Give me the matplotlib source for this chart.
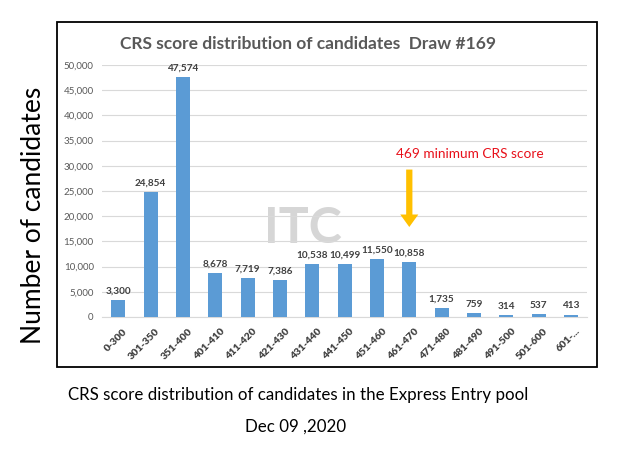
import matplotlib.pyplot as plt
from matplotlib.patches import Rectangle
from matplotlib.ticker import FuncFormatter

ranges = ["0-300", "301-350", "351-400", "401-410", "411-420", "421-430",
          "431-440", "441-450", "451-460", "461-470", "471-480", "481-490",
          "491-500", "501-600", "601-..."]
counts = [3300, 24854, 47574, 8678, 7719, 7386, 10538, 10499, 11550,
          10858, 1735, 759, 314, 537, 413]

cutoff_label = "469 minimum CRS score"
cutoff_idx = 9

plt.rcParams['font.family'] = ['Lato', 'DejaVu Sans']

fig = plt.figure(figsize=(6.3, 4.5), dpi=100)
ax = fig.add_axes([0.162, 0.2956, 0.77, 0.56])

x = list(range(len(ranges)))
ax.bar(x, counts, width=0.43, color="#5b9bd5", zorder=3)

for i, v in enumerate(counts):
    ax.text(i, v + 900, f"{v:,}", ha="center", va="bottom", fontsize=7.2,
            fontweight="bold", color="#404040", zorder=4)

ax.set_xlim(-0.5, len(ranges) - 0.5)
ax.set_ylim(0, 50000)
ax.set_yticks(range(0, 50001, 5000))
ax.yaxis.set_major_formatter(FuncFormatter(lambda v, p: f"{int(v):,}"))
ax.set_xticks([i + 0.15 for i in x])
ax.set_xticklabels(ranges, rotation=45, ha="right", rotation_mode="anchor",
                   fontsize=7.5, fontweight="heavy", color="#404040")
ax.tick_params(axis="y", labelsize=7, labelcolor="#595959", length=0, pad=6)
ax.tick_params(axis="x", length=0, pad=7)
ax.grid(axis="y", color="#d9d9d9", linewidth=0.8, zorder=0)
for s in ["top", "right", "left"]:
    ax.spines[s].set_visible(False)
ax.spines["bottom"].set_color("#d9d9d9")

# watermark
ax.text(5.7, 17500, "ITC", ha="center", va="center", fontsize=36,
        fontweight="bold", color="#d6d6d6", zorder=1)

# cutoff arrow
ax.annotate("", xy=(cutoff_idx, 17300), xytext=(cutoff_idx, 29800),
            arrowprops=dict(arrowstyle="simple,head_width=1.3,head_length=0.9,tail_width=0.45",
                            color="#ffc000", lw=0), zorder=5)
ax.text(10.86, 32300, cutoff_label, ha="center", va="center", fontsize=9.8,
        color="#e8101a", zorder=5)

fig.text(0.489, 0.902, "CRS score distribution of candidates  Draw #169",
         ha="center", va="center", fontsize=12.5, fontweight="bold", color="#595959")

fig.text(0.053, 0.522, "Number of candidates", rotation=90, ha="center",
         va="center", fontsize=19, color="black")

fig.text(0.473, 0.122, "CRS score distribution of candidates in the Express Entry pool",
         ha="center", va="center", fontsize=12.2, color="black")
fig.text(0.469, 0.051, "Dec 09 ,2020", ha="center", va="center",
         fontsize=12.2, color="black")

fig.add_artist(Rectangle((57 / 630, 1 - 367 / 450), 540 / 630, 345 / 450,
                         transform=fig.transFigure, fill=False,
                         edgecolor="black", linewidth=1.3))

fig.savefig("out.png", dpi=100)
